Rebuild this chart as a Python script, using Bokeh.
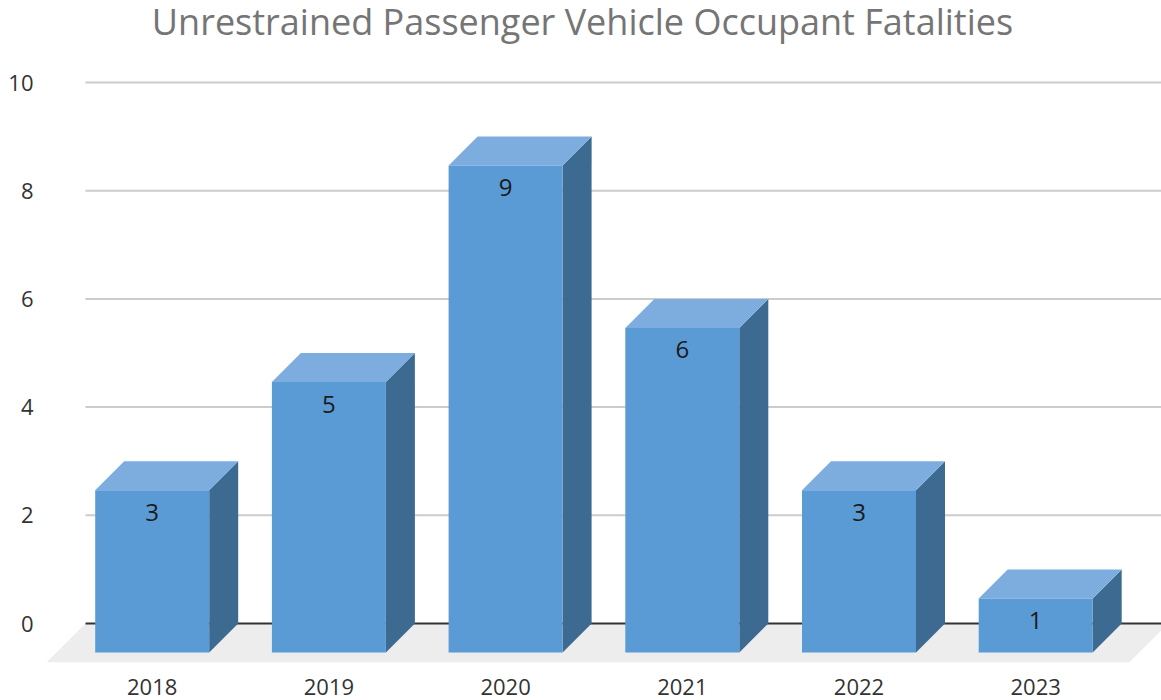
from bokeh.plotting import figure
from bokeh.models import FixedTicker, Range1d, ColumnDataSource, Label
from bokeh.core.properties import value
from bokeh.embed import file_html
from bokeh.resources import INLINE

years = ["2018", "2019", "2020", "2021", "2022", "2023"]
fatalities = [3, 5, 9, 6, 3, 1]
y_ticks = [0, 2, 4, 6, 8, 10]
title_text = "Unrestrained Passenger Vehicle Occupant Fatalities"

FONT = "Open Sans"
PX_X, PX_Y = 176.7, 54.1     # pixels per category / per unit
X0 = 151.7                   # pixel of the first category
HALF = 57 / PX_X             # half bar width
DX, DY = 29 / PX_X, 29 / PX_Y  # 3-D depth

xs_i = list(range(len(years)))

p = figure(width=1161, height=700, output_backend="svg", toolbar_location=None,
           min_border_left=44, min_border_right=0,
           min_border_top=0, min_border_bottom=38,
           x_range=Range1d((44 - X0) / PX_X, (1161 - X0) / PX_X),
           y_range=Range1d((623 - 662) / PX_Y, 623 / PX_Y))
p.outline_line_color = None
p.grid.visible = False

p.add_layout(Label(x=(582 - X0) / PX_X, y=(623 - 21) / PX_Y, text=title_text,
                   text_align="center", text_baseline="alphabetic",
                   text_font=FONT, text_font_size="36px", text_font_style="normal",
                   text_color="#757575"))

p.yaxis.ticker = FixedTicker(ticks=y_ticks)
p.yaxis.major_label_standoff = 5
p.xaxis.ticker = FixedTicker(ticks=xs_i)
p.xaxis.major_label_overrides = {i: y for i, y in enumerate(years)}
p.xaxis.major_label_standoff = 10
for ax in (p.xaxis, p.yaxis):
    ax.axis_line_color = None
    ax.major_tick_line_color = None
    ax.minor_tick_line_color = None
    ax.major_label_text_font = FONT
    ax.major_label_text_font_size = "22px"
    ax.major_label_text_color = "#333333"

floor_l = xs_i[0] - 66.7 / PX_X
floor_r = xs_i[-1] + HALF + DX + 46.5 / PX_X
FLOOR_D = 39 / PX_X
bottom = p.y_range.start

# floor
p.patch([floor_l - FLOOR_D, floor_l, floor_r, floor_r - FLOOR_D],
        [bottom, 0, 0, bottom], fill_color="#EDEDED", line_color=None)

# gridlines
grid_ticks = [t for t in y_ticks if t != 0]
p.segment(x0=[floor_l] * len(grid_ticks), x1=[floor_r] * len(grid_ticks),
          y0=grid_ticks, y1=grid_ticks, line_color="#CCCCCC", line_width=2)
p.segment(x0=[floor_l], x1=[floor_r], y0=[0], y1=[0], line_color="#333333", line_width=2)

# bars
front_xs, front_ys, top_xs, top_ys, side_xs, side_ys = [], [], [], [], [], []
for i, v in zip(xs_i, fatalities):
    l, r = i - HALF, i + HALF
    front_xs.append([l, r, r, l])
    front_ys.append([-DY, -DY, v - DY, v - DY])
    top_xs.append([l, r, r + DX, l + DX])
    top_ys.append([v - DY, v - DY, v, v])
    side_xs.append([r, r + DX, r + DX, r])
    side_ys.append([-DY, 0, v, v - DY])

p.patches(side_xs, side_ys, fill_color="#3D6A91", line_color=None)
p.patches(top_xs, top_ys, fill_color="#7CADDE", line_color=None)
p.patches(front_xs, front_ys, fill_color="#5B9BD5", line_color=None)

src = ColumnDataSource(dict(x=xs_i, y=[v - DY for v in fatalities],
                            t=[str(v) for v in fatalities]))
p.text("x", "y", text="t", source=src, text_font=value(FONT), text_font_size="24px",
       text_color="#1a1a1a", text_align="center", text_baseline="middle", y_offset=22)

open("out.html", "w").write(file_html(p, INLINE))
